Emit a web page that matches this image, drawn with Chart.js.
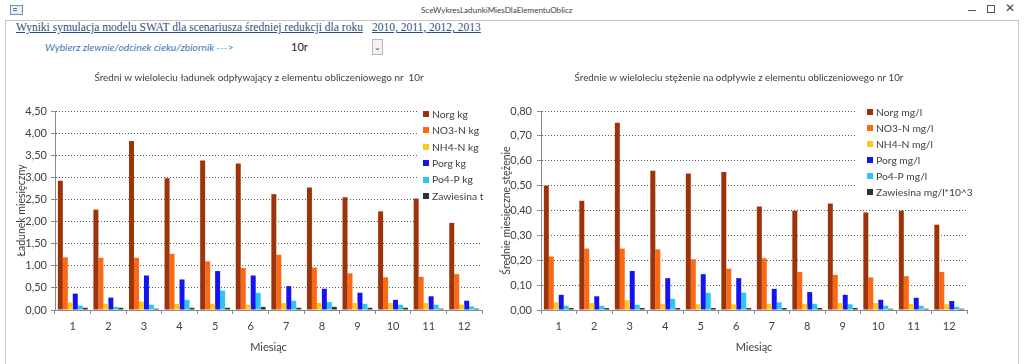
<!DOCTYPE html>
<html><head><meta charset="utf-8">
<script src="https://cdn.jsdelivr.net/npm/chart.js@4.4.0/dist/chart.umd.min.js"></script>
<style>
html,body{margin:0;padding:0;background:#fff;width:1024px;height:364px;overflow:hidden;position:relative;font-family:Lato,sans-serif}
.abs{position:absolute;white-space:nowrap}
#wintitle{left:421px;top:3px;font-size:8.1px;color:#444;line-height:14px}
#icon{left:10px;top:5px;width:11px;height:8px;border:1px solid #7d8fae;background:#e8eef8}
#icon:after{content:"";position:absolute;left:2px;top:2px;width:4px;height:1px;background:#5a7bb0;box-shadow:0 2px 0 #5a7bb0}
#frame{left:5px;top:20px;width:1014px;height:360px;border:1px solid #c6c6c6;box-sizing:border-box}
#hdr{left:16px;top:19px;font-family:"Liberation Serif",serif;font-size:11.5px;color:#2d4f7c;text-decoration:underline;line-height:16px}
#years{left:372px;top:19px;font-family:"Liberation Serif",serif;font-size:11.5px;color:#2d4f7c;text-decoration:underline;line-height:16px}
#pick{left:45px;top:40px;font-size:10.3px;font-style:italic;color:#3a78b8;line-height:14px}
#combo{left:291px;top:40px;font-size:11px;color:#222;line-height:14px}
#btn{left:372px;top:39px;width:11px;height:16px;border:1px solid #b8b8b8;background:#f2f2f2;box-sizing:border-box;font-size:8px;color:#555;text-align:center;line-height:14px}
#c1{left:0;top:60px}
#c2{left:493px;top:60px}
</style></head><body>
<div class="abs" id="frame"></div>
<div class="abs" id="icon"></div>
<div class="abs" id="wintitle">SceWykresLadunkiMiesDlaElementuOblicz</div>
<div class="abs" style="left:968px;top:10px;width:8px;height:1px;background:#555"></div>
<div class="abs" style="left:987px;top:5px;width:8px;height:8px;border:1px solid #555;box-sizing:border-box"></div>
<div class="abs" style="left:1005px;top:1px;font-family:'DejaVu Sans';font-size:12px;color:#444">✕</div>
<div class="abs" id="hdr">Wyniki symulacja modelu SWAT dla scenariusza średniej redukcji dla roku</div>
<div class="abs" id="years">2010, 2011, 2012, 2013</div>
<div class="abs" id="pick">Wybierz zlewnie/odcinek cieku/zbiornik ---&gt;</div>
<div class="abs" id="combo">10r</div>
<div class="abs" id="btn">&#8964;</div>
<canvas class="abs" id="c1" width="493" height="300"></canvas>
<canvas class="abs" id="c2" width="531" height="300"></canvas>
<script>
// ---- data ----
const months = ['1','2','3','4','5','6','7','8','9','10','11','12'];

const namesKg = ['Norg kg','NO3-N kg','NH4-N kg','Porg kg','Po4-P kg','Zawiesina t'];
const norgKg = [2.92,2.27,3.82,2.98,3.38,3.31,2.62,2.77,2.55,2.23,2.52,1.97];
const no3Kg  = [1.19,1.18,1.18,1.27,1.10,0.95,1.25,0.96,0.83,0.74,0.75,0.81];
const nh4Kg  = [0.17,0.14,0.19,0.14,0.14,0.12,0.16,0.16,0.16,0.16,0.16,0.12];
const porgKg = [0.37,0.28,0.78,0.69,0.88,0.78,0.54,0.48,0.39,0.23,0.31,0.21];
const po4Kg  = [0.10,0.07,0.12,0.23,0.44,0.39,0.21,0.18,0.14,0.12,0.12,0.08];
const zawT   = [0.05,0.05,0.03,0.05,0.05,0.07,0.05,0.07,0.05,0.05,0.03,0.03];

const namesMgl = ['Norg mg/l','NO3-N mg/l','NH4-N mg/l','Porg mg/l','Po4-P mg/l','Zawiesina mg/l*10^3'];
const norgMgl = [0.500,0.439,0.753,0.560,0.549,0.555,0.416,0.399,0.428,0.392,0.399,0.343];
const no3Mgl  = [0.215,0.247,0.247,0.244,0.204,0.166,0.208,0.153,0.141,0.131,0.136,0.153];
const nh4Mgl  = [0.031,0.028,0.039,0.025,0.023,0.023,0.025,0.025,0.028,0.028,0.025,0.023];
const porgMgl = [0.061,0.055,0.157,0.128,0.144,0.128,0.085,0.072,0.061,0.041,0.049,0.036];
const po4Mgl  = [0.017,0.017,0.021,0.045,0.069,0.070,0.031,0.025,0.023,0.017,0.017,0.013];
const zawMgl  = [0.008,0.008,0.008,0.008,0.008,0.008,0.008,0.008,0.008,0.005,0.005,0.005];

const titleKg = 'Średni w wieloleciu ładunek odpływający z elementu obliczeniowego nr  10r';
const titleMgl = 'Średnie w wieloleciu stężenie na odpływie z elementu obliczeniowego nr 10r';
const yTitleKg = 'Ładunek miesięczny';
const yTitleMgl = 'Średnie miesięczne stężenie';
const xTitle = 'Miesiąc';

const colors = ['#9c330a','#fb6a12','#ffc81e','#1414f0','#2cc6f6','#2b3535'];
const FONT = 'Lato, sans-serif';
const TXT = '#404040';

const overlay = {
  id: 'overlay',
  beforeDatasetsDraw(chart, args, o) {
    const ctx = chart.ctx; ctx.save();
    ctx.fillStyle = '#fff'; ctx.fillRect(o.box[0], o.box[1], o.box[2], o.box[3]);
    ctx.restore();
  },
  afterDraw(chart, args, o) {
    const ctx = chart.ctx; ctx.save();
    ctx.textBaseline = 'middle';
    ctx.font = o.titleFont; ctx.fillStyle = TXT; ctx.textAlign = 'center';
    ctx.fillText(o.title, o.titleX, o.titleY);
    ctx.font = o.font; ctx.textAlign = 'left';
    chart.data.datasets.forEach((ds, i) => {
      const y = o.itemY + i * o.itemStep;
      ctx.fillStyle = ds.backgroundColor;
      ctx.fillRect(o.sqX, Math.round(y - 3), 6, 6);
      ctx.fillStyle = TXT;
      ctx.fillText(ds.label, o.textX, y + 0.5);
    });
    ctx.restore();
  }
};

function makeChart(id, names, series, yMax, yStep, yTitle, geo) {
  const datasets = series.map((d, i) => ({
    label: names[i], data: d, backgroundColor: colors[i], borderWidth: 0,
    categoryPercentage: 0.84, barPercentage: 1.0
  }));
  return new Chart(document.getElementById(id), {
    type: 'bar',
    data: { labels: months, datasets },
    plugins: [overlay],
    options: {
      responsive: false, animation: false, devicePixelRatio: 1,
      layout: { padding: { left: 0, right: geo.padRight, top: 51, bottom: 0 } },
      plugins: {
        legend: { display: false }, tooltip: { enabled: false },
        overlay: geo.overlay
      },
      scales: {
        x: {
          grid: { offset: true, drawOnChartArea: false, drawTicks: true, tickLength: 4, color: '#8a8a8a' },
          border: { color: '#8a8a8a', width: 1 },
          ticks: { padding: 6, color: TXT, font: { family: FONT, size: 11 }, maxRotation: 0 },
          title: { display: true, text: xTitle, color: TXT, font: { family: FONT, size: 11 }, padding: { top: 0, bottom: 6 } },
          afterFit: s => { s.height = 50; }
        },
        y: {
          min: 0, max: yMax,
          ticks: { stepSize: yStep, padding: geo.tickPad, color: TXT, font: { family: FONT, size: 11 },
                   callback: v => v.toFixed(2).replace('.', ',') },
          grid: { drawTicks: true, tickLength: 4, tickColor: '#8a8a8a',
                  color: c => (c.tick && c.tick.value === 0) ? 'rgba(0,0,0,0)' : '#5a5a5a' },
          border: { color: '#8a8a8a', width: 1, dash: [1, 2] },
          title: { display: true, text: yTitle, color: TXT, font: { family: FONT, size: 10.5 }, padding: { top: geo.yTitlePad, bottom: 0 } },
          afterFit: s => { s.width = geo.yWidth; }
        }
      }
    }
  });
}

makeChart('c1', namesKg, [norgKg, no3Kg, nh4Kg, porgKg, po4Kg, zawT], 4.5, 0.5, yTitleKg, {
  padRight: 11, yWidth: 55, tickPad: 4, yTitlePad: 15,
  overlay: { box: [419, 43, 80, 121], title: titleKg, titleX: 259, titleY: 18,
             titleFont: '9.9px ' + FONT, font: '10.3px ' + FONT,
             itemY: 54, itemStep: 16.4, sqX: 423, textX: 432 }
});
makeChart('c2', namesMgl, [norgMgl, no3Mgl, nh4Mgl, porgMgl, po4Mgl, zawMgl], 0.8, 0.1, yTitleMgl, {
  padRight: 57, yWidth: 48, tickPad: 5, yTitlePad: 7,
  overlay: { box: [364, 43, 160, 97], title: titleMgl, titleX: 246, titleY: 18,
             titleFont: '9.8px ' + FONT, font: '10.3px ' + FONT,
             itemY: 52, itemStep: 16, sqX: 374, textX: 383 }
});
</script>
</body></html>
